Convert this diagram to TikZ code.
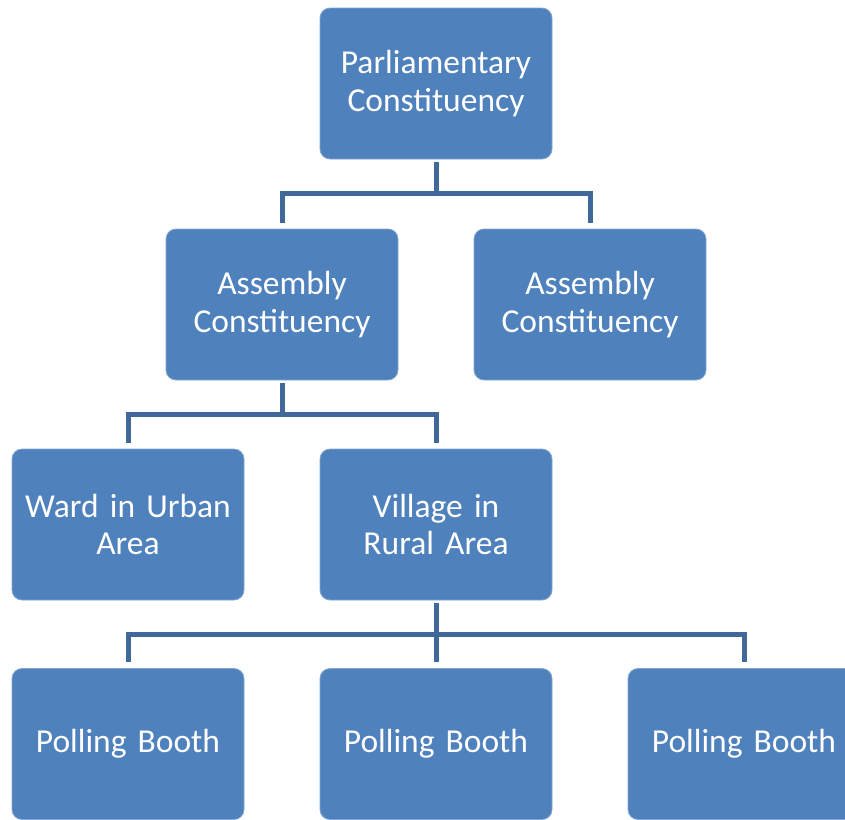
\documentclass[tikz,border=0pt]{standalone}
\usepackage{fontspec}
\setmainfont{Carlito}
\definecolor{boxblue}{HTML}{4F81BD}
\definecolor{lineblue}{HTML}{41689A}
\begin{document}
\begin{tikzpicture}[x=1pt,y=1pt,
  orgbox/.style={fill=boxblue, draw=boxblue!70!white, line width=0.8pt, rounded corners=10pt,
    minimum width=232pt, minimum height=151pt, inner sep=0pt, text width=228pt, align=center,
    text=white, font=\fontsize{33.5}{37.5}\selectfont},
  conn/.style={draw=lineblue, line width=5pt, line join=miter}]
\useasboundingbox (0,0) rectangle (845,-819);
\begin{scope}
\clip (0,0) rectangle (845,-819);
\node[orgbox] (top) at (436,-83.5) {Parliamentary\\Constituency};
\node[orgbox] (a1) at (282,-304.5) {Assembly\\Constituency};
\node[orgbox] (a2) at (590,-304.5) {Assembly\\Constituency};
\node[orgbox] (ward) at (128,-524.5) {Ward in Urban\\Area};
\node[orgbox] (vil) at (436,-524.5) {Village in\\Rural Area};
\node[orgbox] (p1) at (128,-744) {Polling Booth};
\node[orgbox] (p2) at (436,-744) {Polling Booth};
\node[orgbox] (p3) at (744,-744) {Polling Booth};
\coordinate (j1) at (436,-193);
\coordinate (j2) at (282,-414);
\coordinate (j3) at (436,-634);
\draw[conn] ([yshift=-3pt]top.south) -- (j1);
\draw[conn] ([yshift=6pt]a1.north) |- (j1) -| ([yshift=6pt]a2.north);
\draw[conn] ([yshift=-3pt]a1.south) -- (j2);
\draw[conn] ([yshift=6pt]ward.north) |- (j2) -| ([yshift=6pt]vil.north);
\draw[conn] ([yshift=-3pt]vil.south) -- (j3);
\draw[conn] ([yshift=6pt]p1.north) |- (j3) -| ([yshift=6pt]p3.north);
\draw[conn] (j3) -- ([yshift=6pt]p2.north);
\end{scope}
\end{tikzpicture}
\end{document}
